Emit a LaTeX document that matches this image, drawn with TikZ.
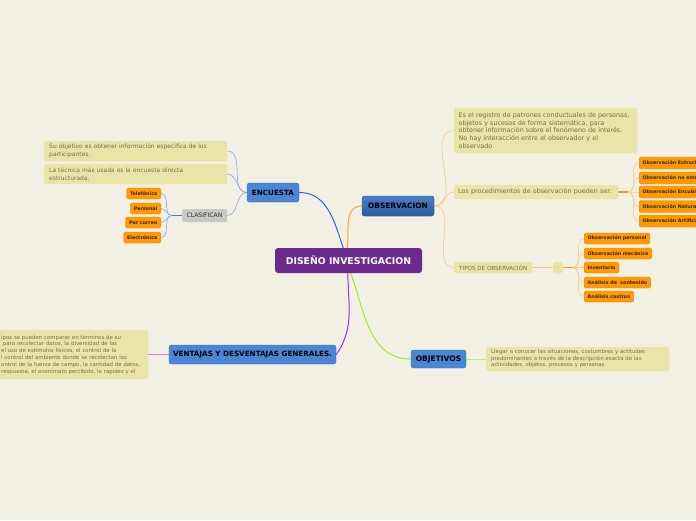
\documentclass[tikz,border=0pt]{standalone}
\usepackage{fontspec}
\setmainfont{DejaVu Sans}
\usetikzlibrary{calc}
\definecolor{bgc}{HTML}{F2F0E3}
\definecolor{purp}{HTML}{6A2B8D}
\definecolor{mblue}{HTML}{4A86D6}
\definecolor{oblue1}{HTML}{4A7EC6}
\definecolor{oblue2}{HTML}{2E5A9C}
\definecolor{notefill}{HTML}{E9E5A7}
\definecolor{notetext}{HTML}{75714F}
\definecolor{leafor}{HTML}{FF9A05}
\definecolor{leaftext}{HTML}{3A2600}
\definecolor{clasgray}{HTML}{C9C9C6}
\definecolor{cblue}{HTML}{2D62F2}
\definecolor{corange}{HTML}{FFA52E}
\definecolor{cpurple}{HTML}{A92BF2}
\definecolor{cgreen}{HTML}{95EE3C}
\definecolor{lblue}{HTML}{85A9F2}
\definecolor{lorange}{HTML}{F6C987}
\definecolor{barblue}{HTML}{3F76F2}
\definecolor{barorange}{HTML}{F49A1C}
\pgfdeclarelayer{back}
\pgfsetlayers{back,main}
\begin{document}
\begin{tikzpicture}[x=1pt,y=-1pt,
  centre/.style={rounded corners=3pt, fill=purp, text=white, inner sep=0pt,
    font=\bfseries\fontsize{9.3}{10}\selectfont},
  topic/.style={rounded corners=2.5pt, fill=mblue, draw=mblue!85!black, line width=0.4pt,
    text=black, inner sep=0pt, font=\bfseries\fontsize{7.2}{8}\selectfont},
  note/.style={rounded corners=2pt, fill=notefill, text=notetext, align=left,
    inner xsep=5pt, inner ysep=0pt},
  leaf/.style={rounded corners=1.5pt, fill=leafor, draw=leafor!90!black, line width=0.3pt,
    text=leaftext, inner xsep=3.5pt, inner ysep=0pt, minimum height=11,
    font=\bfseries\fontsize{4.8}{5}\selectfont},
  conn/.style={line width=1pt},
  sub/.style={line width=0.6pt},
]
\useasboundingbox (0,0) rectangle (696,520);
\clip (0,0) rectangle (696,520);

% central and main topics
\node[centre, minimum width=147, minimum height=25] (ctr) at (348.5,260.5) {DISEÑO INVESTIGACION};
\node[topic, minimum width=52, minimum height=19] (enc) at (273,192.5) {ENCUESTA};
\node[topic, top color=oblue1, bottom color=oblue2, draw=oblue2, minimum width=72, minimum height=20,
  font=\bfseries\fontsize{7.4}{8}\selectfont] (obs) at (398,206) {OBSERVACION};
\node[topic, minimum width=167, minimum height=19] (vent) at (252.5,354.5) {VENTAJAS Y DESVENTAJAS GENERALES.};
\node[topic, minimum width=55, minimum height=18, font=\bfseries\fontsize{7.5}{8}\selectfont] (obj) at (438.5,359) {OBJETIVOS};

% ENCUESTA branch
\node[note, anchor=west, text width=173, minimum height=20, font=\fontsize{6}{8}\selectfont] (n1) at (44,151)
  {Su objetivo es obtener información especifica de los\\participantes.};
\node[note, anchor=west, text width=173, minimum height=20, font=\fontsize{6}{8}\selectfont] (n2) at (44,174)
  {La técnica más usada es la encuesta directa\\estructurada.};
\node[rounded corners=1.5pt, fill=clasgray, text=black!80, inner sep=0pt, minimum width=45, minimum height=13,
  font=\fontsize{6.1}{7}\selectfont] (clas) at (204.5,215.5) {CLASIFICAN};
\coordinate (jb) at (172,215.5);
\node[leaf, anchor=east] (tel) at (161,193.5) {Telefónica};
\node[leaf, anchor=east] (per) at (161,208.5) {Personal};
\node[leaf, anchor=east] (cor) at (161,222.5) {Por correo};
\node[leaf, anchor=east] (ele) at (161,237.5) {Electrónica};

% OBSERVACION branch
\node[note, anchor=west, text width=174, inner xsep=4.5pt, minimum height=45, font=\fontsize{6.4}{7.8}\selectfont] (nA) at (454,130.5)
  {Es el registro de patrones conductuales de personas,\\objetos y sucesos de forma sistemática, para\\obtener información sobre el fenómeno de interés.\\No hay interacción entre el observador y el\\observado};
\node[note, anchor=west, text width=156, inner xsep=4pt, minimum height=14, font=\fontsize{6.4}{7}\selectfont] (nB) at (454,192)
  {Los procedimientos de observación pueden ser:};
\node[note, anchor=west, inner xsep=4pt, minimum width=78, minimum height=11, font=\fontsize{5.6}{6}\selectfont] (nC) at (454,267.5)
  {TIPOS DE OBSERVACIÓN};
\node[note, inner xsep=0pt, minimum width=10, minimum height=11, font=\fontsize{5}{6}\selectfont] (dot) at (558,267.5) {.};
\coordinate (jB) at (628,192);
\coordinate (jC) at (573,267.5);
\node[leaf, anchor=west, minimum height=12] (b1) at (639,163) {Observación Estructurada};
\node[leaf, anchor=west, minimum height=12] (b2) at (639,178) {Observación no estructurada};
\node[leaf, anchor=west, minimum height=12] (b3) at (639,192) {Observación Encubierta};
\node[leaf, anchor=west, minimum height=12] (b4) at (639,206.5) {Observación Natural};
\node[leaf, anchor=west, minimum height=12] (b5) at (639,221) {Observación Artificial};
\node[leaf, anchor=west] (c1) at (584,238.5) {Observación personal};
\node[leaf, anchor=west] (c2) at (584,253.5) {Observación mecánica};
\node[leaf, anchor=west] (c3) at (584,267.5) {Inventario};
\node[leaf, anchor=west] (c4) at (584,282.5) {Análisis de\ \ contenido};
\node[leaf, anchor=west] (c5) at (584,296.5) {Análisis castros};

% VENTAJAS note (clipped at the left edge)
\node[note, anchor=west, inner xsep=4pt, text width=143, minimum height=49, font=\fontsize{5.4}{6.8}\selectfont] (nV) at (-3,354.5)
  {ipos se pueden comparar en términos de su\\\ para recolectar datos, la diversidad de las\\el uso de estímulos físicos, el control de la\\l control del ambiente donde se recolectan los\\ontrol de la fuerza de campo, la cantidad de datos,\\respuesta, el anonimato percibido, la rapidez y el};

% OBJETIVOS note
\node[note, anchor=west, text width=173, minimum height=24, font=\fontsize{5.4}{6.5}\selectfont] (nO) at (486,359)
  {Llegar a conocer las situaciones, costumbres y actitudes\\predominantes a través de la descripción exacta de las\\actividades, objetos, procesos y personas};

\coordinate (ct) at (346,256);
\coordinate (cb) at (348,266);

\begin{pgfonlayer}{back}
\fill[bgc] (0,0) rectangle (696,520);
% main connectors
\draw[conn, cblue] (enc.east) to[out=0,in=110] (ct);
\draw[conn, corange] (obs.west) to[out=180,in=75] (ct);
\draw[conn, cpurple] (vent.east) to[out=55,in=-92] (cb);
\draw[conn, cgreen] (obj.west) to[out=180,in=-68] (cb);
% ENCUESTA sub-connectors
\draw[sub, lblue] (enc.west) to[out=180,in=0] (n1.east);
\draw[sub, lblue] (enc.west) to[out=180,in=0] (n2.east);
\draw[sub, lblue] (enc.west) to[out=180,in=0] (clas.east);
\draw[line width=1.6pt, barblue] (clas.west) -- (jb);
\foreach \l in {tel,per,cor,ele}{\draw[sub, lblue] (jb) to[out=180,in=0] (\l.east);}
% OBSERVACION sub-connectors
\draw[sub, lorange] (obs.east) to[out=0,in=180] (nA.west);
\draw[sub, lorange] (obs.east) to[out=0,in=180] (nB.west);
\draw[sub, lorange] (obs.east) to[out=0,in=180] (nC.west);
\draw[sub, lorange] (nC.east) -- (dot.west);
\draw[line width=1.2pt, barorange] (nB.east) -- (jB);
\draw[line width=1.2pt, barorange] (dot.east) -- (jC);
\foreach \l in {b1,b2,b3,b4,b5}{\draw[sub, lorange] (jB) to[out=0,in=180] (\l.west);}
\foreach \l in {c1,c2,c3,c4,c5}{\draw[sub, lorange] (jC) to[out=0,in=180] (\l.west);}
% other notes
\draw[sub, cpurple!60] (vent.west) -- (nV.east);
\draw[sub, cgreen!70] (obj.east) -- (nO.west);
\end{pgfonlayer}
\end{tikzpicture}
\end{document}
